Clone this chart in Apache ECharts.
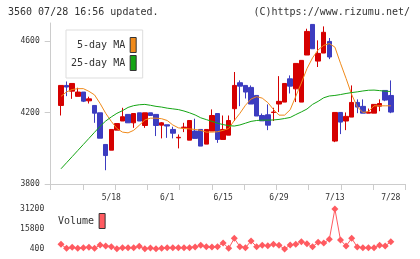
<!DOCTYPE html>
<html>
<head>
<meta charset="utf-8">
<script src="https://cdn.jsdelivr.net/npm/echarts@6/dist/echarts.min.js"></script>
<style>
  html, body { margin: 0; padding: 0; background: #fff; }
  #chart { width: 420px; height: 259px; }
</style>
</head>
<body>
<div id="chart"></div>
<script>
// trading days (2015)
const dates = ['4/30','5/1','5/7','5/8','5/11','5/12','5/13','5/14','5/15','5/18',
  '5/19','5/20','5/21','5/22','5/25','5/26','5/27','5/28','5/29','6/1',
  '6/2','6/3','6/4','6/5','6/8','6/9','6/10','6/11','6/12','6/15',
  '6/16','6/17','6/18','6/19','6/22','6/23','6/24','6/25','6/26','6/29',
  '6/30','7/1','7/2','7/3','7/6','7/7','7/8','7/9','7/10','7/13',
  '7/14','7/15','7/16','7/17','7/21','7/22','7/23','7/24','7/27','7/28'];

const openP = [4239,4351,4319,4290,4314,4265,4239,4198,4021,3989,
  4101,4152,4189,4142,4198,4127,4198,4189,4129,4131,
  4105,4058,4114,4045,4096,4105,4023,4096,4194,4049,
  4073,4221,4366,4351,4340,4295,4183,4187,4200,4247,
  4258,4388,4332,4258,4521,4692,4487,4532,4597,4040,
  4200,4152,4174,4256,4234,4196,4196,4235,4323,4295];
const closeP = [4351,4342,4362,4314,4263,4276,4196,4056,3959,4105,
  4138,4176,4142,4194,4152,4198,4183,4127,4142,4124,
  4084,4061,4118,4155,4055,4012,4105,4183,4049,4105,
  4155,4351,4347,4314,4247,4180,4153,4129,4202,4262,
  4362,4347,4474,4491,4653,4556,4530,4648,4510,4200,
  4146,4178,4256,4230,4196,4202,4245,4250,4269,4202];
const lowP = [4183,4291,4276,4290,4258,4250,4142,4056,3877,3989,
  4101,4152,4142,4114,4152,4114,4183,4068,4055,4058,
  4055,3999,4090,4045,4055,4012,4023,4096,4030,4049,
  4073,4152,4235,4278,4247,4180,4153,4101,4152,4202,
  4258,4306,4258,4258,4521,4556,4454,4532,4498,4034,
  4079,4101,4174,4196,4196,4196,4196,4207,4263,4196];
const highP = [4351,4373,4362,4338,4314,4288,4239,4198,4021,4105,
  4138,4226,4189,4194,4198,4198,4198,4189,4146,4131,
  4120,4077,4142,4155,4165,4105,4105,4217,4194,4183,
  4183,4426,4379,4351,4351,4295,4194,4245,4226,4403,
  4362,4407,4474,4491,4668,4692,4603,4681,4616,4200,
  4200,4200,4351,4273,4273,4222,4245,4273,4323,4379];

const ma5 = [4290,4315,4328,4333,4333,4318,4298,4250,4195,4150,
  4110,4090,4086,4100,4128,4158,4168,4168,4165,4155,
  4130,4114,4110,4108,4105,4100,4090,4090,4092,4100,
  4110,4155,4195,4240,4275,4288,4280,4255,4217,4185,
  4185,4215,4290,4365,4445,4505,4550,4575,4585,4565,
  4475,4390,4300,4232,4200,4205,4237,4237,4237,4237];
const ma25 = [3885,3919,3953,3987,4021,4055,4089,4123,4152,4175,
  4195,4210,4228,4238,4243,4245,4240,4234,4230,4224,
  4220,4216,4208,4198,4186,4170,4160,4150,4140,4132,
  4126,4124,4130,4140,4150,4155,4157,4157,4158,4161,
  4166,4172,4188,4203,4219,4245,4262,4282,4292,4295,
  4300,4306,4311,4315,4320,4324,4325,4322,4319,4317];

const volume = [3990,910,1680,910,1430,1680,910,3480,2710,2200,
  500,1430,1430,1430,2450,500,1170,500,910,1430,
  1430,1430,1430,1430,1940,3220,2200,1940,2200,5020,
  910,8610,2200,1430,6560,2200,3220,2970,3990,3220,
  400,3480,3990,6050,4510,2200,5530,5020,7840,31200,
  7330,2710,8610,1940,1430,1430,1430,3220,2710,6050];

const priceTicks = [3800, 4200, 4600];
const volumeTicks = [400, 15800, 31200];

const mono = 'DejaVu Sans Mono';
const axisGray = '#cccccc';
const plain = (v) => String(v);

const chart = echarts.init(document.getElementById('chart'));

const option = {
  animation: false,
  backgroundColor: '#fff',
  title: [
    { text: '3560 07/28 16:56 updated.', left: 8, top: 7, padding: 0,
      textStyle: { fontFamily: mono, fontSize: 10, fontWeight: 'normal', color: '#333' } },
    { text: '(C)https://www.rizumu.net/', right: 10, top: 7, padding: 0,
      textStyle: { fontFamily: mono, fontSize: 10, fontWeight: 'normal', color: '#333' } }
  ],
  legend: [
    {
      data: ['5-day MA', '25-day MA'],
      orient: 'vertical', align: 'right', left: 66, top: 30,
      icon: 'rect', itemWidth: 6, itemHeight: 15, itemGap: 2,
      padding: [7, 6, 7, 5],
      backgroundColor: '#fff', borderColor: '#dddddd', borderWidth: 1,
      itemStyle: { borderColor: '#333', borderWidth: 1 },
      textStyle: { fontFamily: mono, fontSize: 10, color: '#333' },
      selectedMode: false
    },
    {
      data: ['Volume'],
      orient: 'vertical', align: 'right', left: 58, top: 213,
      icon: 'rect', itemWidth: 6, itemHeight: 15, padding: 0,
      itemStyle: { borderColor: '#333', borderWidth: 1 },
      textStyle: { fontFamily: mono, fontSize: 10, color: '#333' },
      selectedMode: false
    }
  ],
  grid: [
    { left: 58.2, right: 26.4, top: 23, bottom: 75 },
    { left: 50.7, right: 14.7, top: 23, bottom: 75 },
    { left: 58.2, right: 26.4, top: 209, bottom: 10 }
  ],
  xAxis: [
    {
      type: 'category', gridIndex: 0, data: dates, boundaryGap: true,
      axisLine: { show: false }, axisTick: { show: false }, splitLine: { show: false },
      axisLabel: {
        interval: (i) => i % 10 === 9,
        margin: 10, fontFamily: mono, fontSize: 8, color: '#333'
      }
    },
    {
      type: 'value', gridIndex: 1, min: 0, max: 11, interval: 1,
      axisLine: { lineStyle: { color: axisGray } },
      axisTick: { length: 6, lineStyle: { color: axisGray } },
      axisLabel: { show: false }, splitLine: { show: false }
    },
    { type: 'category', gridIndex: 2, data: dates, boundaryGap: true, show: false }
  ],
  yAxis: [
    { type: 'value', gridIndex: 0, min: 3800, max: 4700, show: false, splitLine: { show: false } },
    {
      type: 'value', gridIndex: 1, min: 3800, max: 4700,
      axisLine: { show: true, lineStyle: { color: axisGray } },
      axisTick: { show: true, length: 6, customValues: priceTicks, lineStyle: { color: axisGray } },
      axisLabel: { customValues: priceTicks, formatter: plain, margin: 11, fontFamily: mono, fontSize: 8, color: '#333' },
      splitLine: { show: false }
    },
    {
      type: 'value', gridIndex: 2, min: 400, max: 31200,
      axisLine: { show: false }, axisTick: { show: false },
      axisLabel: { customValues: volumeTicks, formatter: plain, margin: 14, fontFamily: mono, fontSize: 8, color: '#333' },
      splitLine: { show: false }
    }
  ],
  series: [
    {
      type: 'candlestick', xAxisIndex: 0, yAxisIndex: 0, barWidth: 5,
      data: dates.map((d, i) => [openP[i], closeP[i], lowP[i], highP[i]]),
      itemStyle: { color: '#d50000', color0: '#3c3cc0', borderColor: '#d50000', borderColor0: '#3c3cc0', borderWidth: 1 }
    },
    {
      name: '5-day MA', type: 'line', xAxisIndex: 0, yAxisIndex: 0, data: ma5,
      showSymbol: false, color: '#f08a1a', lineStyle: { width: 1, color: '#f08a1a' }
    },
    {
      name: '25-day MA', type: 'line', xAxisIndex: 0, yAxisIndex: 0, data: ma25,
      showSymbol: false, color: '#14a514', lineStyle: { width: 1, color: '#14a514' }
    },
    {
      name: 'Volume', type: 'line', xAxisIndex: 2, yAxisIndex: 2, data: volume,
      symbol: 'diamond', symbolSize: 7, showAllSymbol: true, clip: false,
      color: '#ff5a60', lineStyle: { width: 1, color: '#ff5a60' }
    }
  ]
};
chart.setOption(option);
</script>
</body>
</html>
